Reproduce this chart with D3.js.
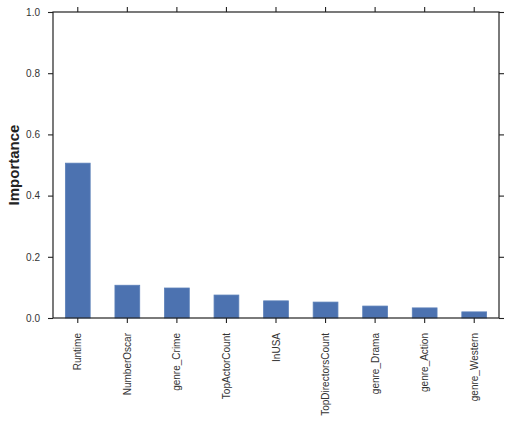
<!DOCTYPE html>
<html>
<head>
<meta charset="utf-8">
<script src="https://cdn.jsdelivr.net/npm/d3@7"></script>
<style>
  body { margin: 0; background: #fff; }
  svg text { font-family: "Liberation Sans", Arial, sans-serif; }
</style>
</head>
<body>
<div id="chart"></div>
<script>
// feature importances
const features = ['Runtime', 'NumberOscar', 'genre_Crime', 'TopActorCount', 'InUSA',
  'TopDirectorsCount', 'genre_Drama', 'genre_Action', 'genre_Western'];
const importance = [0.506, 0.107, 0.098, 0.075, 0.056, 0.052, 0.039, 0.033, 0.02];
const yTicks = [0.0, 0.2, 0.4, 0.6, 0.8, 1.0];

const W = 506, H = 442;
const margin = {top: 12, right: 7, bottom: 124, left: 53};
const iw = W - margin.left - margin.right;
const ih = H - margin.top - margin.bottom;

const svg = d3.select('#chart').append('svg')
  .attr('width', W)
  .attr('height', H);
const g = svg.append('g').attr('transform', `translate(${margin.left},${margin.top})`);

const x = d3.scaleBand().domain(features).range([0, iw]).paddingInner(0.5).paddingOuter(0.25);
const y = d3.scaleLinear().domain([0, 1]).range([ih, 0]);

// bars
g.selectAll('rect.bar')
  .data(features)
  .enter().append('rect')
  .attr('class', 'bar')
  .attr('x', d => x(d))
  .attr('width', x.bandwidth())
  .attr('y', (d, i) => y(importance[i]))
  .attr('height', (d, i) => ih - y(importance[i]))
  .attr('fill', '#4c72b0')
  .attr('stroke', '#5a7fb8')
  .attr('stroke-width', 0.8);

function styleAxis(sel) {
  sel.selectAll('.domain').remove();
  sel.selectAll('.tick line').attr('stroke', '#222').attr('stroke-width', 1.1);
  sel.selectAll('.tick text').attr('fill', '#333').style('font-size', '10px');
}

// left axis
g.append('g')
  .call(d3.axisLeft(y).tickValues(yTicks).tickFormat(d3.format('.1f')).tickSize(5).tickPadding(8))
  .call(styleAxis);
// right axis (ticks only)
g.append('g')
  .attr('transform', `translate(${iw},0)`)
  .call(d3.axisRight(y).tickValues(yTicks).tickFormat('').tickSize(5))
  .call(styleAxis);
// top axis (ticks only)
g.append('g')
  .call(d3.axisTop(x).tickFormat('').tickSize(5))
  .call(styleAxis);
// bottom axis with rotated labels
const xb = g.append('g')
  .attr('transform', `translate(0,${ih})`)
  .call(d3.axisBottom(x).tickSize(5).tickPadding(10))
  .call(styleAxis);
xb.selectAll('.tick text')
  .attr('transform', 'rotate(-90)')
  .attr('text-anchor', 'end')
  .attr('dy', '0.35em')
  .attr('x', -15)
  .attr('y', 0);

// frame
g.append('rect')
  .attr('width', iw)
  .attr('height', ih)
  .attr('fill', 'none')
  .attr('stroke', '#222')
  .attr('stroke-width', 1.2);

// y label
svg.append('text')
  .attr('transform', `translate(19,${margin.top + ih / 2}) rotate(-90)`)
  .attr('text-anchor', 'middle')
  .style('font-size', '15px')
  .style('font-weight', 'bold')
  .attr('fill', '#222')
  .text('Importance');
</script>
</body>
</html>
